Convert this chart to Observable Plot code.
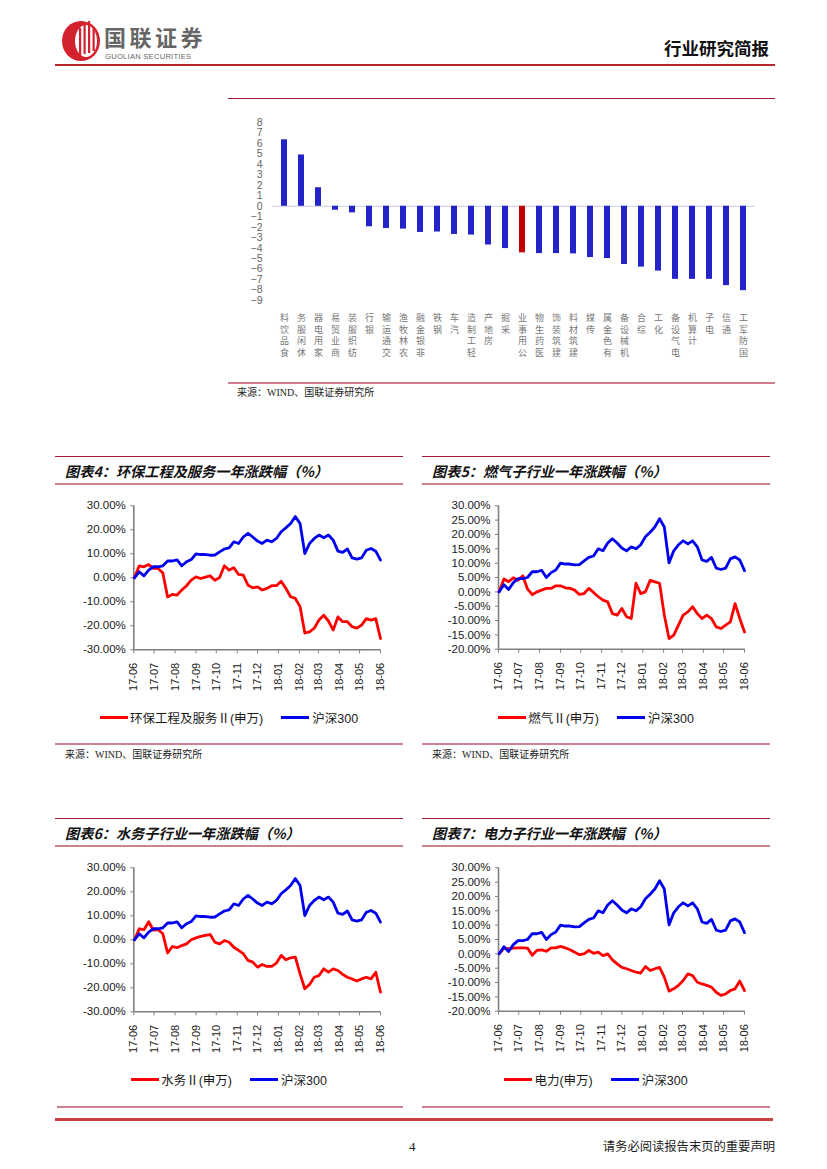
<!DOCTYPE html>
<html><head><meta charset="utf-8">
<script src="https://cdn.jsdelivr.net/npm/d3@7"></script>
<script src="https://cdn.jsdelivr.net/npm/@observablehq/plot@0.6"></script>
<style>
html,body{margin:0;padding:0;background:#fff;}
body{width:827px;height:1169px;position:relative;overflow:hidden;font-family:"Liberation Sans","Noto Sans CJK SC",sans-serif;}
</style></head><body>
<script>
// ---------------- DATA ----------------
const industries = ["食品饮料","休闲服务","家用电器","商业贸易","纺织服装","银行","交通运输","农林牧渔","非银金融","钢铁","汽车","轻工制造","房地产","采掘","公用事业","医药生物","建筑装饰","建筑材料","传媒","有色金属","机械设备","综合","化工","电气设备","计算机","电子","通信","国防军工"];
const industryChange = [6.35,4.9,1.77,-0.38,-0.63,-1.96,-2.12,-2.18,-2.5,-2.46,-2.69,-2.75,-3.7,-4.04,-4.45,-4.52,-4.52,-4.55,-4.9,-4.99,-5.56,-5.81,-6.19,-6.98,-6.98,-6.98,-7.58,-8.06];
const highlightIndustry = "公用事业";
const barYTicks = [8,7,6,5,4,3,2,1,0,-1,-2,-3,-4,-5,-6,-7,-8,-9];

const dates = ["2017-06-02","2017-06-09","2017-06-16","2017-06-23","2017-06-30","2017-07-07","2017-07-14","2017-07-21","2017-07-28","2017-08-04","2017-08-11","2017-08-18","2017-08-25","2017-09-01","2017-09-08","2017-09-15","2017-09-22","2017-09-29","2017-10-06","2017-10-13","2017-10-20","2017-10-27","2017-11-03","2017-11-10","2017-11-17","2017-11-24","2017-12-01","2017-12-08","2017-12-15","2017-12-22","2017-12-29","2018-01-05","2018-01-12","2018-01-19","2018-01-26","2018-02-02","2018-02-09","2018-02-16","2018-02-23","2018-03-02","2018-03-09","2018-03-16","2018-03-23","2018-03-30","2018-04-06","2018-04-13","2018-04-20","2018-04-27","2018-05-04","2018-05-11","2018-05-18","2018-05-25","2018-06-01"];
const monthTicks = ["2017-06-01","2017-07-01","2017-08-01","2017-09-01","2017-10-01","2017-11-01","2017-12-01","2018-01-01","2018-02-01","2018-03-01","2018-04-01","2018-05-01","2018-06-01"];

const hs300 = [0,2.5,0.8,3.2,4.6,4.6,5,7,7,7.5,5,6.7,7.6,10,9.7,9.7,9.4,9.5,10.8,12,12.5,15,14.3,17,18.5,17,15.3,14.3,15.7,15,16.4,19.2,20.8,22.6,25.5,22.6,10.1,14.3,16.4,17.8,16.7,17.8,15.7,11.1,10.6,12,8.3,7.8,8.3,11.5,12.2,11.1,7.4];
const huanbao = [0,5,4.6,5.5,3.9,3.9,2,-8,-6.9,-7.2,-5.1,-3.3,-1,0.4,-0.3,0.3,0.8,-1,0.1,5,3.2,4.2,1.4,1.1,-3.1,-4.2,-3.8,-5.1,-4.4,-3.3,-3.3,-1.4,-4.4,-7.9,-8.6,-12,-23,-22.5,-21,-17.6,-15.6,-18,-21.8,-16.3,-18.3,-18.3,-20.4,-21,-19.7,-17,-17.6,-17,-25.3];
const ranqi = [0,4.5,3.5,4.9,4,5.6,1,-1,0,0.6,1.2,1.2,2.1,2.1,1.4,1.2,0.6,-0.9,-0.6,1.2,-0.2,-1.7,-2.9,-3.5,-7.6,-8.1,-5.8,-8.7,-9.3,3,-0.6,0,4,3.5,3,-8.1,-16.3,-15.1,-11.6,-8.1,-7,-5.2,-7.6,-9.3,-8.1,-9.3,-12.2,-12.8,-11.6,-10.5,-4.1,-9.3,-14];
const shuiwu = [0,4.6,4.2,7.5,4,4.2,2.5,-5.5,-2.8,-3.3,-2.4,-1.7,0,0.8,1.4,1.8,2.2,-1,-1.7,-0.3,-1,-3.1,-4.4,-5.8,-8.6,-9.3,-11.4,-10.3,-11.1,-11.1,-9.7,-6.5,-8.3,-7.5,-7.2,-14.2,-20.4,-18.6,-15.6,-14.9,-12.1,-13.5,-12.1,-12.8,-14.4,-15.6,-16.3,-17.2,-16.3,-15.6,-16.3,-13.5,-21.8];
const dianli = [0,2,1.8,2,2.1,2.1,2,-0.5,1.2,1.4,0.9,2.1,2.1,2.6,2.1,1.4,0.6,-0.3,0,1.2,0.2,0.6,-0.6,0,-2.1,-3.5,-4.7,-5.2,-5.8,-6.4,-6.7,-4.4,-5.8,-5.2,-4.7,-8.1,-13,-12.2,-11,-9.3,-7,-7.6,-9.9,-10.5,-11,-11.6,-13.4,-14.5,-14,-12.8,-12.2,-9.5,-12.8];

const yTicksWide = [-30,-20,-10,0,10,20,30];
const yTicksFine = [-20,-15,-10,-5,0,5,10,15,20,25,30];

// ---------------- HELPERS ----------------
function el(tag, style, text){const e=document.createElement(tag);Object.assign(e.style,style);if(text!=null)e.textContent=text;document.body.appendChild(e);return e;}
function hline(x1,x2,y,color,w){el("div",{position:"absolute",left:x1+"px",top:(y-w/2)+"px",width:(x2-x1)+"px",height:w+"px",background:color});}
function txt(x,y,s,style){return el("div",Object.assign({position:"absolute",left:x+"px",top:y+"px",transform:"translateY(-50%)",whiteSpace:"nowrap",lineHeight:"1"},style),s);}
function place(node,left,top){const d=el("div",{position:"absolute",left:left+"px",top:top+"px"});d.appendChild(node);return d;}

// ---------------- HEADER ----------------
const logo = document.createElementNS("http://www.w3.org/2000/svg","svg");
logo.setAttribute("width","50");logo.setAttribute("height","46");
logo.innerHTML = `
 <ellipse cx="21" cy="23" rx="19" ry="20" fill="#d3212d"/>
 <ellipse cx="26" cy="23" rx="11" ry="16" fill="#fff"/>
 <rect x="19" y="10" width="2.2" height="28" fill="#d3212d"/>
 <rect x="23.5" y="6" width="2.2" height="30" fill="#d3212d"/>
 <rect x="28" y="3" width="2.2" height="32" fill="#d3212d"/>
 <rect x="32.5" y="9" width="2.2" height="24" fill="#d3212d"/>`;
place(logo,60,18);
txt(104,36.3,"国联证券",{fontFamily:"'Noto Sans CJK SC'",fontWeight:"700",fontSize:"22px",color:"#666",letterSpacing:"3.5px"});
txt(105,57,"GUOLIAN SECURITIES",{fontFamily:"'Liberation Sans'",fontSize:"7.6px",color:"#666",letterSpacing:"0.25px"});
txt(664,48,"行业研究简报",{fontFamily:"'Noto Sans CJK SC'",fontWeight:"700",fontSize:"17.5px",color:"#111"});
hline(55,775,65,"#b8262c",2);

// ---------------- BAR CHART ----------------
hline(228,775,98,"#9e1b36",1);
const barData = industries.map((n,i)=>({name:n,v:industryChange[i]}));
const bar = Plot.plot({
  width:548,height:262,marginLeft:44.5,marginRight:21.5,marginTop:14,marginBottom:70,
  style:{fontFamily:"'Liberation Sans','Noto Sans CJK SC',sans-serif",background:"transparent",color:"#666"},
  x:{type:"band",domain:industries,paddingInner:0.65,paddingOuter:0.375,label:null},
  y:{domain:[-9,8],label:null},
  marks:[
    Plot.ruleY([0],{stroke:"#c9c9e6",strokeWidth:1.2}),
    Plot.barY(barData.filter(d=>d.name!==highlightIndustry),{x:"name",y:"v",fill:"#2323c8"}),
    Plot.barY(barData.filter(d=>d.name===highlightIndustry),{x:"name",y:"v",fill:"#c00000"}),
    Plot.axisY({ticks:barYTicks,tickSize:0,tickPadding:10.5,fontSize:10.5,fill:"#666"}),
    Plot.axisX({tickSize:0,tickPadding:12,fontSize:9,lineHeight:1.3,fill:"#777",fontFamily:"'Noto Sans CJK SC'",
      tickFormat:d=>Array.from(d).reverse().join("\n")})
  ]
});
place(bar,228,108);
hline(228,775,383,"#d27d8e",1.5);
const srcStyle={fontFamily:"'Liberation Serif','Noto Sans CJK SC',serif",fontSize:"10px",color:"#222"};
txt(237,393,"来源：WIND、国联证券研究所",srcStyle);

// ---------------- LINE CHARTS ----------------
function lineChart(cfg){
  const sector = dates.map((d,i)=>({date:new Date(d),v:cfg.values[i]}));
  const bench = dates.map((d,i)=>({date:new Date(d),v:hs300[i]}));
  const t0 = new Date(monthTicks[0]), t1 = new Date(monthTicks[monthTicks.length-1]);
  return Plot.plot({
    width:cfg.width,height:205,marginLeft:cfg.ml,marginRight:cfg.mr,marginTop:10.3,marginBottom:cfg.mb,
    style:{fontFamily:"'Liberation Sans',Arial,sans-serif",background:"transparent",color:"#1a1a1a"},
    x:{type:"utc",domain:[t0,t1],label:null},
    y:{domain:cfg.yDomain,label:null},
    marks:[
      Plot.axisY({ticks:cfg.yTicks,tickFormat:d=>d.toFixed(2)+"%",tickSize:3,tickPadding:5,stroke:"#808080",fontSize:11.5}),
      Plot.axisX({ticks:monthTicks.map(s=>new Date(s)),tickFormat:d3.utcFormat("%y-%m"),tickRotate:-90,tickSize:4,tickPadding:9,stroke:"#808080",fontSize:11}),
      Plot.ruleY([cfg.yDomain[0]],{stroke:"#808080",strokeWidth:1.6}),
      Plot.ruleX([t0],{stroke:"#808080",strokeWidth:1.6}),
      Plot.line(sector,{x:"date",y:"v",stroke:"#ff0000",strokeWidth:2.8}),
      Plot.line(bench,{x:"date",y:"v",stroke:"#0000f0",strokeWidth:2.8})
    ]
  });
}

function legend(left,width,y,label){
  const d=el("div",{position:"absolute",left:left+"px",top:(y-9)+"px",width:width+"px",height:"18px",display:"flex",justifyContent:"center",alignItems:"center",fontFamily:"'Liberation Sans','Noto Sans CJK SC',sans-serif",fontSize:"12.5px",color:"#1a1a1a",whiteSpace:"nowrap"});
  d.innerHTML=`<span style="display:inline-block;width:28px;height:3px;background:#ff0000;margin-right:2px"></span><span>${label}</span>`+
    `<span style="display:inline-block;width:28px;height:3px;background:#0000f0;margin-left:18px;margin-right:3px"></span><span>沪深300</span>`;
}

const titleStyle={fontFamily:"'Noto Sans CJK SC'",fontWeight:"700",fontStyle:"italic",fontSize:"14.2px",color:"#111"};
function panel(p){
  hline(p.x1,p.x2,p.top,"#9e1b36",1);
  txt(p.tx,p.top+15,p.title,titleStyle);
  hline(p.x1,p.x2,p.top+27.5,"#c98391",2);
  const svg=lineChart(p.chart);
  place(svg,p.x1,p.top+39);
  legend(p.x1,p.x2-p.x1,p.top+261,p.legendLabel);
}

panel({x1:55,x2:403,tx:65,top:456,title:"图表4：环保工程及服务一年涨跌幅（%）",legendLabel:"环保工程及服务Ⅱ(申万)",
  chart:{width:350,ml:78.3,mr:25,mb:50.7,yDomain:[-30,30],yTicks:yTicksWide,values:huanbao}});
panel({x1:422,x2:770,tx:432,top:456,title:"图表5：燃气子行业一年涨跌幅（%）",legendLabel:"燃气Ⅱ(申万)",
  chart:{width:350,ml:76,mr:28,mb:51.3,yDomain:[-20,30],yTicks:yTicksFine,values:ranqi}});
hline(55,403,744,"#c98391",1.5);
hline(422,770,744,"#c98391",1.5);
txt(65,755,"来源：WIND、国联证券研究所",srcStyle);
txt(432,755,"来源：WIND、国联证券研究所",srcStyle);

panel({x1:55,x2:403,tx:65,top:818,title:"图表6：水务子行业一年涨跌幅（%）",legendLabel:"水务Ⅱ(申万)",
  chart:{width:350,ml:78.3,mr:25,mb:50.7,yDomain:[-30,30],yTicks:yTicksWide,values:shuiwu}});
panel({x1:422,x2:770,tx:432,top:818,title:"图表7：电力子行业一年涨跌幅（%）",legendLabel:"电力(申万)",
  chart:{width:350,ml:76,mr:28,mb:51.3,yDomain:[-20,30],yTicks:yTicksFine,values:dianli}});
hline(57,403,1107,"#c98391",1.5);
hline(422,770,1107,"#c98391",1.5);

// ---------------- FOOTER ----------------
hline(55,773,1119,"#c94040",3);
txt(409,1146,"4",{fontFamily:"'Liberation Serif',serif",fontSize:"13px",color:"#222"});
el("div",{position:"absolute",right:"52px",top:"1146px",transform:"translateY(-50%)",whiteSpace:"nowrap",lineHeight:"1",fontFamily:"'Noto Sans CJK SC'",fontSize:"12.3px",color:"#222"},"请务必阅读报告末页的重要声明");
</script>
</body></html>
